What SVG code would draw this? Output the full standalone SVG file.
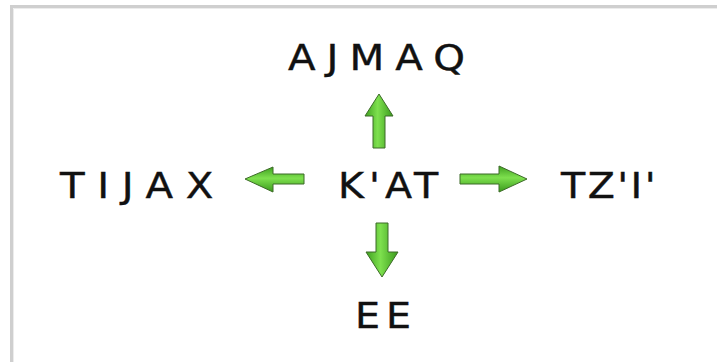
<svg xmlns="http://www.w3.org/2000/svg" width="717" height="362" viewBox="0 0 717 362">
  <style>
    .lbl { font-family: "DejaVu Sans", "Liberation Sans", sans-serif; font-size: 36px; fill: #111; stroke: #111; stroke-width: 0.4; }
    .arr { stroke: #3d6b28; stroke-width: 1; stroke-linejoin: miter; }
  </style>
  <defs>
    <linearGradient id="gv" x1="0" y1="0" x2="1" y2="0">
      <stop offset="0" stop-color="#3fa020"/>
      <stop offset="0.45" stop-color="#7ee04e"/>
      <stop offset="1" stop-color="#3a9a1c"/>
    </linearGradient>
    <linearGradient id="gh" x1="0" y1="0" x2="0" y2="1">
      <stop offset="0" stop-color="#3fa020"/>
      <stop offset="0.45" stop-color="#7ee04e"/>
      <stop offset="1" stop-color="#3a9a1c"/>
    </linearGradient>
  </defs>
  <rect width="717" height="362" fill="#ffffff"/>
  <path d="M11.5 362 V6.5 H717" fill="none" stroke="#cfcfcf" stroke-width="3"/>
  <path d="M13.5 362 V8.5 H717" fill="none" stroke="#ececec" stroke-width="1"/>

  <g id="connectors">
    <path class="arr" fill="url(#gv)" d="M379 94 L393 116 L385 116 L385 148 L373 148 L373 116 L365 116 Z"/>
    <path class="arr" fill="url(#gh)" d="M245 179 L273 167 L273 174 L304 174 L304 184 L273 184 L273 192 Z"/>
    <path class="arr" fill="url(#gh)" d="M527 179 L499 166 L499 174 L460 174 L460 184 L499 184 L499 192 Z"/>
    <path class="arr" fill="url(#gv)" d="M382 277 L366 252 L376 252 L376 223 L388 223 L388 252 L398 252 Z"/>
  </g>

  <g id="node-kat"><text class="lbl" transform="translate(338,198) scale(1.1,1)" textLength="91" lengthAdjust="spacing">K'AT</text></g>
  <g id="node-ajmaq"><text class="lbl" transform="translate(288,70) scale(1.12,1)" textLength="158" lengthAdjust="spacing">AJMAQ</text></g>
  <g id="node-tijax"><text class="lbl" transform="translate(60,198) scale(1.12,1)" textLength="137" lengthAdjust="spacing">TIJAX</text></g>
  <g id="node-tzi"><text class="lbl" transform="translate(561,198) scale(1.1,1)" textLength="86" lengthAdjust="spacing">TZ'I'</text></g>
  <g id="node-ee"><text class="lbl" transform="translate(355,328) scale(1.1,1)" textLength="51" lengthAdjust="spacing">EE</text></g>
</svg>
